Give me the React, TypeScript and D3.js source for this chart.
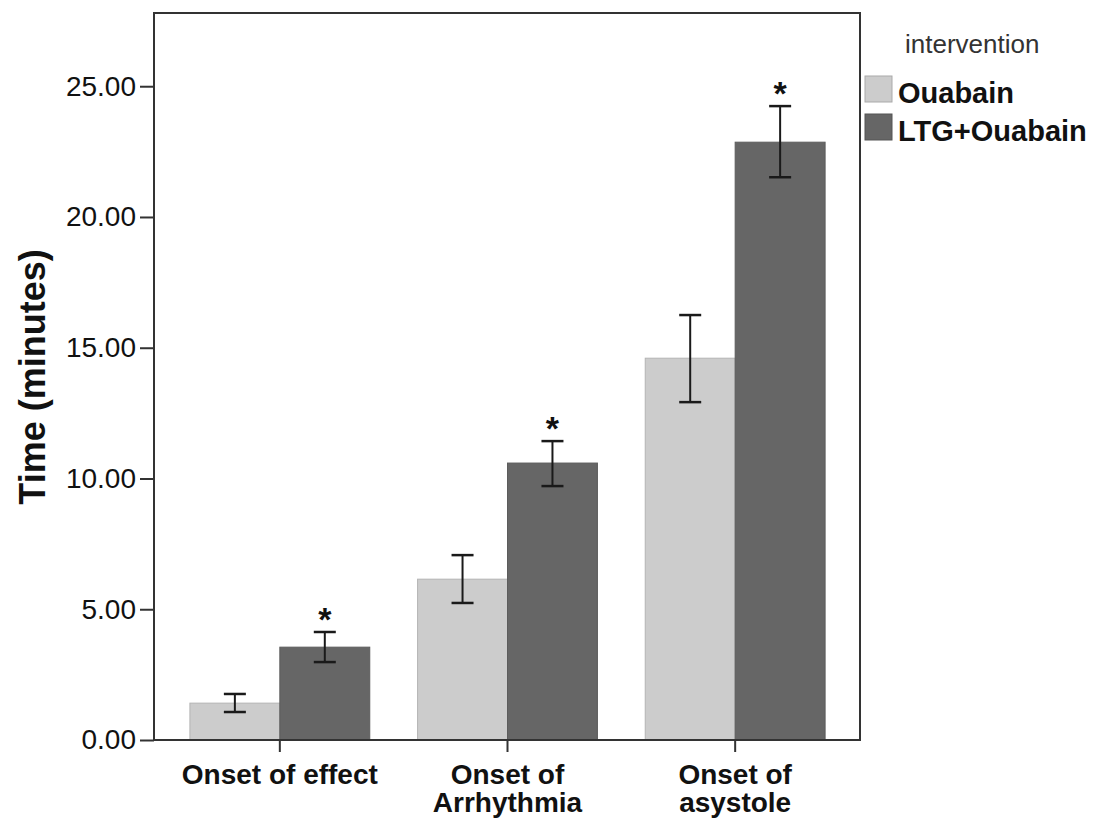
import React, { useEffect, useRef } from "react";
import * as d3 from "d3";

// values
const categories = ["Onset of effect", "Onset of\nArrhythmia", "Onset of\nasystole"];
const seriesNames = ["Ouabain", "LTG+Ouabain"];
const seriesColors = ["#cccccc", "#666666"];
const ouabainMean = [1.41, 6.15, 14.6];
const ouabainLow = [1.07, 5.24, 12.92];
const ouabainHigh = [1.76, 7.07, 16.25];
const ltgMean = [3.55, 10.59, 22.86];
const ltgLow = [2.98, 9.71, 21.52];
const ltgHigh = [4.13, 11.43, 24.24];
const ltgStar = [true, true, true];
const yTicks = [0, 5, 10, 15, 20, 25];

const FONT = "'Liberation Sans', Arial, sans-serif";

const App: React.FC = () => {
  const svgRef = useRef<SVGSVGElement | null>(null);

  useEffect(() => {
    const width = 1095;
    const height = 818;
    const frameLeft = 154;
    const frameRight = 860;
    const frameTop = 13;
    const frameBottom = 740;

    const svg = d3.select(svgRef.current);
    svg.selectAll("*").remove();
    svg.attr("width", width).attr("height", height).style("font-family", FONT);

    svg.append("rect").attr("width", width).attr("height", height).attr("fill", "#fff");

    const y = d3.scaleLinear().domain([0, 27.8]).range([frameBottom, frameTop]);

    const x = d3
      .scaleBand()
      .domain(categories)
      .range([frameLeft + 12, frameRight - 11])
      .padding(0);

    const groupW = x.bandwidth() * 0.79;
    const xs = d3.scaleBand().domain(seriesNames).range([0, groupW]).padding(0);

    const rows = categories.map((c, i) => ({
      cat: c,
      vals: [
        { s: seriesNames[0], m: ouabainMean[i], lo: ouabainLow[i], hi: ouabainHigh[i], star: false },
        { s: seriesNames[1], m: ltgMean[i], lo: ltgLow[i], hi: ltgHigh[i], star: ltgStar[i] },
      ],
    }));

    const groups = svg
      .selectAll(".grp")
      .data(rows)
      .enter()
      .append("g")
      .attr("class", "grp")
      .attr(
        "transform",
        (d) => `translate(${(x(d.cat) as number) + x.bandwidth() / 2 - groupW / 2},0)`,
      );

    const bars = groups
      .selectAll(".bar")
      .data((d) => d.vals)
      .enter()
      .append("g")
      .attr("class", "bar");

    bars
      .append("rect")
      .attr("x", (d) => xs(d.s) as number)
      .attr("y", (d) => y(d.m))
      .attr("width", xs.bandwidth())
      .attr("height", (d) => y(0) - y(d.m))
      .attr("fill", (_, i) => seriesColors[i])
      .attr("stroke", (_, i) => (i === 0 ? "#b4b4b4" : "#5c5c5c"))
      .attr("stroke-width", 1);

    // error bars
    const cx = (d: any) => (xs(d.s) as number) + xs.bandwidth() / 2;
    bars
      .append("line")
      .attr("x1", cx)
      .attr("x2", cx)
      .attr("y1", (d) => y(d.lo))
      .attr("y2", (d) => y(d.hi))
      .attr("stroke", "#1a1a1a")
      .attr("stroke-width", 2);
    [(d: any) => d.lo, (d: any) => d.hi].forEach((f) => {
      bars
        .append("line")
        .attr("x1", (d) => cx(d) - 11)
        .attr("x2", (d) => cx(d) + 11)
        .attr("y1", (d) => y(f(d)))
        .attr("y2", (d) => y(f(d)))
        .attr("stroke", "#1a1a1a")
        .attr("stroke-width", 2.5);
    });

    // significance stars
    bars
      .filter((d) => d.star)
      .append("text")
      .attr("x", cx)
      .attr("y", (d) => y(d.hi) - 1)
      .attr("text-anchor", "middle")
      .attr("font-size", 34)
      .attr("font-weight", "bold")
      .attr("fill", "#111")
      .text("*");

    // frame
    svg
      .append("rect")
      .attr("x", frameLeft)
      .attr("y", frameTop)
      .attr("width", frameRight - frameLeft)
      .attr("height", frameBottom - frameTop)
      .attr("fill", "none")
      .attr("stroke", "#333")
      .attr("stroke-width", 2);

    // y axis
    const gy = svg
      .append("g")
      .attr("transform", `translate(${frameLeft},0)`)
      .call(
        d3
          .axisLeft(y)
          .tickValues(yTicks)
          .tickSize(14)
          .tickPadding(4)
          .tickFormat(d3.format(".2f")),
      );
    gy.select(".domain").remove();
    gy.selectAll(".tick line").attr("stroke", "#333").attr("stroke-width", 2);
    gy.selectAll("text")
      .attr("font-family", FONT)
      .attr("font-size", 28)
      .attr("fill", "#111");

    // x axis
    const gx = svg
      .append("g")
      .attr("transform", `translate(0,${frameBottom})`)
      .call(d3.axisBottom(x).tickSize(12).tickFormat(() => ""));
    gx.select(".domain").remove();
    gx.selectAll(".tick line").attr("stroke", "#333").attr("stroke-width", 2);

    // category labels, one text per line
    categories.forEach((c) => {
      c.split("\n").forEach((l, i) => {
        svg
          .append("text")
          .attr("x", (x(c) as number) + x.bandwidth() / 2)
          .attr("y", 784 + i * 28)
          .attr("text-anchor", "middle")
          .attr("font-size", 28)
          .attr("font-weight", "bold")
          .attr("fill", "#111")
          .text(l);
      });
    });

    // y title
    svg
      .append("text")
      .attr("transform", "translate(45,377) rotate(-90)")
      .attr("text-anchor", "middle")
      .attr("font-size", 36)
      .attr("font-weight", "bold")
      .attr("fill", "#111")
      .text("Time (minutes)");

    // legend
    svg
      .append("text")
      .attr("x", 905)
      .attr("y", 53)
      .attr("font-size", 26)
      .attr("fill", "#333")
      .text("intervention");

    const leg = svg
      .selectAll(".leg")
      .data(seriesNames)
      .enter()
      .append("g")
      .attr("class", "leg")
      .attr("transform", (_, i) => `translate(865,${76 + i * 38})`);
    leg
      .append("rect")
      .attr("width", 27)
      .attr("height", 26)
      .attr("fill", (_, i) => seriesColors[i])
      .attr("stroke", (_, i) => (i === 0 ? "#aaa" : "#555"))
      .attr("stroke-width", 1);
    leg
      .append("text")
      .attr("x", 33)
      .attr("y", 27)
      .attr("font-size", 29)
      .attr("font-weight", "bold")
      .attr("fill", "#111")
      .text((d) => d);
  }, []);

  return (
    <div style={{ position: "absolute", left: 0, top: 0 }}>
      <svg ref={svgRef}></svg>
    </div>
  );
};

export default App;
